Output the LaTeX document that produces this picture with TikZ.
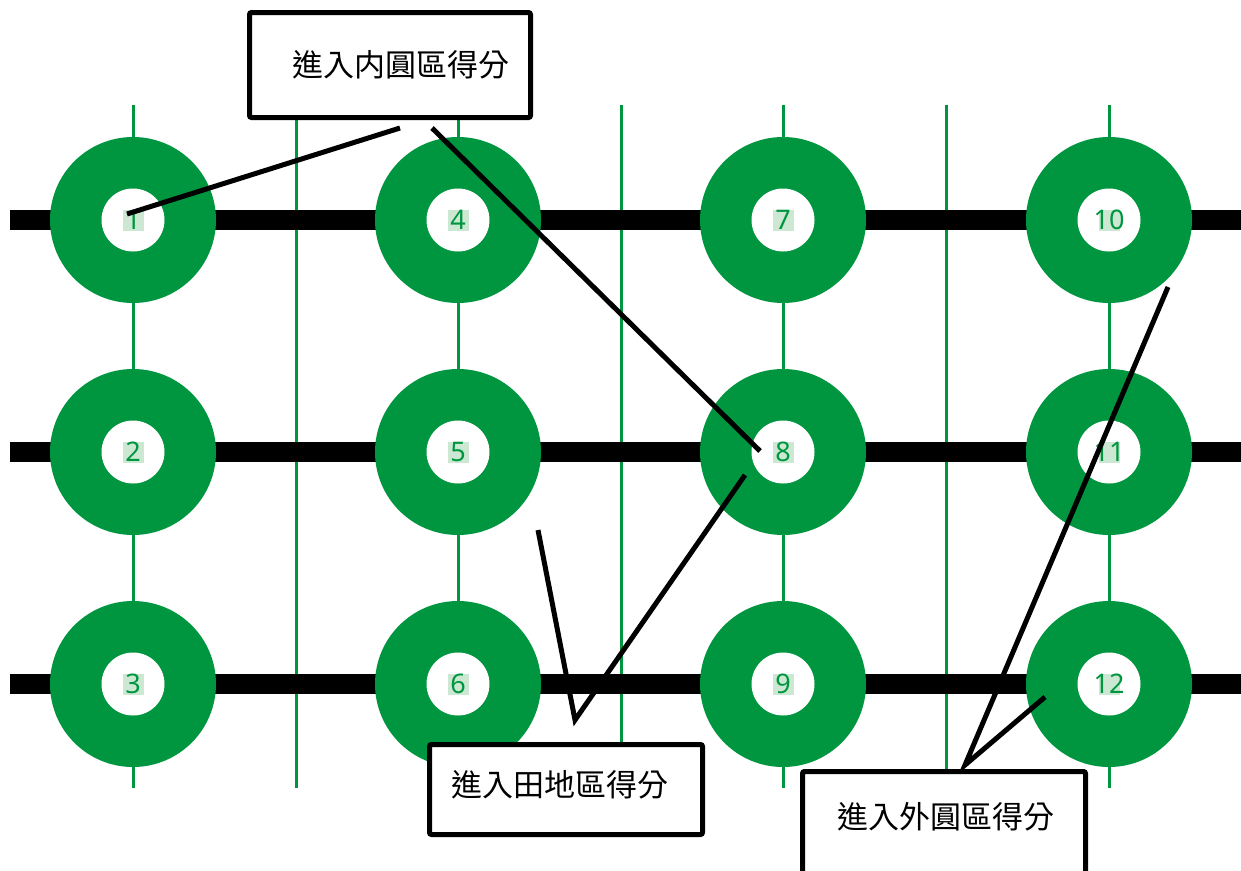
\documentclass[tikz,border=0pt]{standalone}
\usepackage{fontspec}
\setmainfont{Noto Sans}
\newfontfamily\cjk{Noto Sans CJK TC}
\usetikzlibrary{calc}
\definecolor{ggreen}{RGB}{0,150,64}
\definecolor{hl}{RGB}{204,232,210}
\tikzset{
  ring/.style={circle, fill=ggreen, minimum size=166pt, inner sep=0pt},
  hole/.style={circle, fill=white, minimum size=63pt, inner sep=0pt},
  hlbox/.style={fill=hl, minimum width=21pt, minimum height=21pt, inner sep=0pt},
  num/.style={text=ggreen, font=\fontsize{27}{27}\selectfont, inner sep=0pt},
  gridv/.style={draw=ggreen, line width=3pt},
  track/.style={draw=black, line width=20pt},
  labelbox/.style={draw=black, line width=5pt, rounded corners=2pt, fill=white, inner sep=0pt},
  labeltext/.style={font=\cjk\fontsize{31}{31}\selectfont, inner sep=0pt},
  pointer/.style={draw=black, line width=5pt}
}
\begin{document}
\begin{tikzpicture}[x=1pt,y=-1pt]
\useasboundingbox (0,0) rectangle (1241,870);
\clip (0,0) rectangle (1241,870);
\fill[white] (0,0) rectangle (1241,870);
% vertical green lines
\foreach \i/\x in {1/133,2/296,3/458,4/621,5/783,6/946,7/1109}{
  \coordinate (vt\i) at (\x,105);
  \coordinate (vb\i) at (\x,788);
  \draw[gridv] (vt\i) -- (vb\i);
}
% thick black tracks
\foreach \i/\y in {1/220,2/452,3/684}{
  \coordinate (hl\i) at (10,\y);
  \coordinate (hr\i) at (1241,\y);
  \draw[track] (hl\i) -- (hr\i);
}
% rings
\foreach \n/\x/\y in {1/133/220,2/133/452,3/133/684,4/458/220,5/458/452,6/458/684,7/783/220,8/783/452,9/783/684,10/1109/220,11/1109/452,12/1109/684}{
  \node[ring] (c\n) at (\x,\y) {};
  \node[hole] (i\n) at (c\n) {};
  \node[hlbox] (h\n) at ($(c\n)+(0,0)$) {};
  \node[num] (n\n) at (c\n) {\n};
}
% label boxes
\node[labelbox, minimum width=281pt, minimum height=105pt] (b1) at (390,65) {};
\node[labeltext] (t1) at (401,65) {進入内圓區得分};
\node[labelbox, minimum width=273pt, minimum height=90pt] (b2) at (566,789.5) {};
\node[labeltext] (t2) at (560,785) {進入田地區得分};
\node[labelbox, minimum width=283pt, minimum height=126pt] (b3) at (944,834.5) {};
\node[labeltext] (t3) at (945.5,817) {進入外圓區得分};
% pointers
\coordinate (p1) at (400,128);
\coordinate (p2) at (432,128);
\coordinate (p3) at (538,530);
\coordinate (v3) at (575,720);
\coordinate (p4) at (1168,287);
\coordinate (v4) at (965,765);
\draw[pointer] (p1) -- ($(c1.center)+(-6,-6)$);
\draw[pointer] (p2) -- ($(c8.center)+(-23,-1)$);
\draw[pointer] (p3) -- (v3) -- ($(c8.center)+(-38,23)$);
\draw[pointer] (p4) -- (v4) -- ($(c12.center)+(-64,13)$);
\end{tikzpicture}
\end{document}
